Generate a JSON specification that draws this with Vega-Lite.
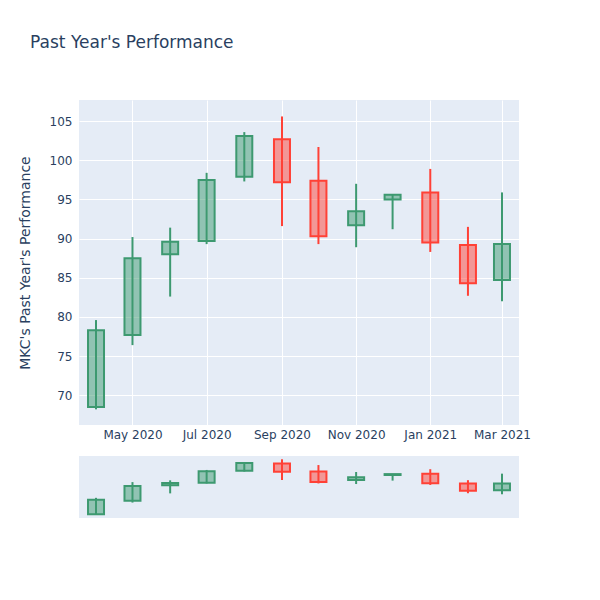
{
  "$schema": "https://vega.github.io/schema/vega-lite/v6.json",
  "padding": {"top": 34, "left": 18, "right": 5, "bottom": 5},
  "background": "white",
  "title": {"text": "Past Year's Performance", "anchor": "start", "fontSize": 17, "font": "DejaVu Sans", "fontWeight": "normal", "color": "#2a3f5f", "dx": 12, "offset": 48},
  "config": {
    "view": {"fill": "#E5ECF6", "stroke": null},
    "font": "DejaVu Sans",
    "axis": {"gridColor": "white", "gridWidth": 1, "domain": false, "ticks": false, "labelColor": "#2a3f5f", "labelFontSize": 12, "labelFont": "DejaVu Sans", "titleFont": "DejaVu Sans", "titleColor": "#2a3f5f", "titleFontWeight": "normal", "titleFontSize": 14}
  },
  "data": {"values": [
    {"date": "2020-04-01", "open": 68.5, "high": 79.6, "low": 68.2, "close": 78.3},
    {"date": "2020-05-01", "open": 77.7, "high": 90.2, "low": 76.4, "close": 87.5},
    {"date": "2020-06-01", "open": 88.0, "high": 91.4, "low": 82.6, "close": 89.6},
    {"date": "2020-07-01", "open": 89.7, "high": 98.4, "low": 89.3, "close": 97.5},
    {"date": "2020-08-01", "open": 97.9, "high": 103.6, "low": 97.3, "close": 103.1},
    {"date": "2020-09-01", "open": 102.7, "high": 105.6, "low": 91.6, "close": 97.2},
    {"date": "2020-10-01", "open": 97.4, "high": 101.7, "low": 89.3, "close": 90.3},
    {"date": "2020-11-01", "open": 91.7, "high": 97.0, "low": 88.9, "close": 93.5},
    {"date": "2020-12-01", "open": 95.0, "high": 95.7, "low": 91.2, "close": 95.6},
    {"date": "2021-01-01", "open": 95.9, "high": 98.9, "low": 88.3, "close": 89.5},
    {"date": "2021-02-01", "open": 89.2, "high": 91.5, "low": 82.7, "close": 84.3},
    {"date": "2021-03-01", "open": 84.7, "high": 95.9, "low": 82.0, "close": 89.3}
  ]},
  "spacing": 16,
  "vconcat": [
    {
      "width": 440,
      "height": 325,
      "encoding": {
        "x": {"field": "date", "type": "temporal", "title": null,
          "scale": {"domain": [{"year": 2020, "month": 3, "date": 18}, {"year": 2021, "month": 3, "date": 15}], "padding": 0},
          "axis": {"format": "%b %Y", "labelPadding": 4,
            "values": [{"year": 2020, "month": 5, "date": 1}, {"year": 2020, "month": 7, "date": 1}, {"year": 2020, "month": 9, "date": 1}, {"year": 2020, "month": 11, "date": 1}, {"year": 2021, "month": 1, "date": 1}, {"year": 2021, "month": 3, "date": 1}]}}
      },
      "layer": [
        {
          "mark": {"type": "rule", "strokeWidth": 2},
          "encoding": {
            "y": {"field": "low", "type": "quantitative", "title": "MKC's Past Year's Performance",
              "scale": {"domain": [66.2, 107.7], "nice": false, "zero": false, "padding": 0},
              "axis": {"values": [70, 75, 80, 85, 90, 95, 100, 105], "labelPadding": 7, "titlePadding": 17}},
            "y2": {"field": "high"},
            "stroke": {"condition": {"test": "datum.close >= datum.open", "value": "#3D9970"}, "value": "#FF4136"}
          }
        },
        {
          "mark": {"type": "bar", "width": 16, "strokeWidth": 2, "fillOpacity": 0.5},
          "encoding": {
            "y": {"field": "open", "type": "quantitative"},
            "y2": {"field": "close"},
            "fill": {"condition": {"test": "datum.close >= datum.open", "value": "#3D9970"}, "value": "#FF4136"},
            "stroke": {"condition": {"test": "datum.close >= datum.open", "value": "#3D9970"}, "value": "#FF4136"}
          }
        }
      ]
    },
    {
      "width": 440,
      "height": 62,
      "encoding": {
        "x": {"field": "date", "type": "temporal", "axis": null,
          "scale": {"domain": [{"year": 2020, "month": 3, "date": 18}, {"year": 2021, "month": 3, "date": 15}], "padding": 0}}
      },
      "layer": [
        {
          "mark": {"type": "rule", "strokeWidth": 2},
          "encoding": {
            "y": {"field": "low", "type": "quantitative", "axis": null,
              "scale": {"domain": [66.0, 107.8], "nice": false, "zero": false, "padding": 0}},
            "y2": {"field": "high"},
            "stroke": {"condition": {"test": "datum.close >= datum.open", "value": "#3D9970"}, "value": "#FF4136"}
          }
        },
        {
          "mark": {"type": "bar", "width": 16, "strokeWidth": 2, "fillOpacity": 0.5},
          "encoding": {
            "y": {"field": "open", "type": "quantitative"},
            "y2": {"field": "close"},
            "fill": {"condition": {"test": "datum.close >= datum.open", "value": "#3D9970"}, "value": "#FF4136"},
            "stroke": {"condition": {"test": "datum.close >= datum.open", "value": "#3D9970"}, "value": "#FF4136"}
          }
        }
      ]
    }
  ],
  "resolve": {"scale": {"y": "independent"}}
}
